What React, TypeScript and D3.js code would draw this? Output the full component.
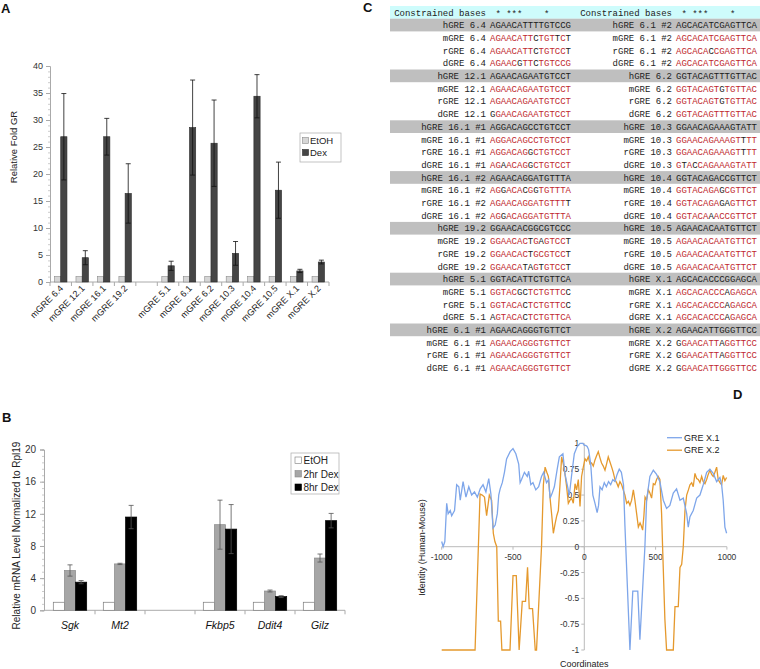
import { useRef, useEffect } from "react";
import * as d3 from "d3";

// ---- Panel A: ChIP fold enrichment ----
const gresA = ["mGRE 6.4", "mGRE 12.1", "mGRE 16.1", "mGRE 19.2", "", "mGRE 5.1", "mGRE 6.1", "mGRE 6.2", "mGRE 10.3", "mGRE 10.4", "mGRE 10.5", "mGRE X.1", "mGRE X.2"];
const seriesA = ["EtOH", "Dex"];
const etohA = [1, 1, 1, 1, null, 1, 1, 1, 1, 1, 1, 1, 1];
const dexA = [26.9, 4.5, 26.9, 16.4, null, 3.0, 28.6, 25.7, 5.3, 34.4, 17.0, 2.05, 3.7];
const dexErrA = [8.0, 1.3, 3.4, 5.5, null, 0.85, 8.8, 8.0, 2.2, 4.0, 5.2, 0.3, 0.35];
const ticksA = [0, 5, 10, 15, 20, 25, 30, 35, 40];

// ---- Panel B: qPCR ----
const genesB = ["Sgk", "Mt2", "", "Fkbp5", "Ddit4", "Gilz"];
const seriesB = ["EtOH", "2hr Dex", "8hr Dex"];
const etohB = [1, 1, null, 1, 1, 1];
const dex2B = [4.95, 5.77, null, 10.65, 2.4, 6.5];
const dex2ErrB = [0.7, 0.08, null, 3.05, 0.12, 0.5];
const dex8B = [3.5, 11.6, null, 10.1, 1.7, 11.15];
const dex8ErrB = [0.2, 1.45, null, 3.05, 0.12, 0.9];
const ticksB = [0, 4, 8, 12, 16, 20];

// ---- Panel C: alignments (human, mouse, rat, dog) ----
const speciesC = ["h", "m", "r", "d"];
const starsC = " * ***    *    ";
const leftGresC = ["6.4", "12.1", "16.1 #1", "16.1 #2", "19.2", "5.1", "6.1 #1"];
const leftSeqC = [
  ["AGAACATTTTGTCCG", "AGAACATTCTGTTCT", "AGAACATTCTGTCCT", "AGAACGTTCTGTCCG"],
  ["AGAACAGAATGTCCT", "AGAACAGAATGTCCT", "AGAACAGAATGTCCT", "GGAACAGAATGTCCT"],
  ["AGGACAGCCTGTCCT", "AGGACAGCCTGTCCT", "AGGACAGGCTGTCCT", "AGAACAGGCTGTCCT"],
  ["AGAACAGGATGTTTA", "AGGACACGGTGTTTA", "AGAACAGGATGTTTT", "AGGACAGGATGTTTA"],
  ["GGAACACGGCGTCCC", "GGAACACTGAGTCCT", "GGAACACTGCGTCCT", "GGAACATAGTGTCCT"],
  ["GGTACATTCTGTTCA", "GGTACGCTCTGTTCC", "GGTACACTCTGTTCC", "AGTACACTCTGTTCA"],
  ["AGAACAGGGTGTTCT", "AGAACAGGGTGTTCT", "AGAACAGGGTGTTCT", "AGAACAGGGTGTTCT"],
];
const rightGresC = ["6.1 #2", "6.2", "10.3", "10.4", "10.5", "X.1", "X.2"];
const rightSeqC = [
  ["AGCACATCGAGTTCA", "AGCACATCGAGTTCA", "AGCACACCGAGTTCA", "AGCACATCGAGTTCA"],
  ["GGTACAGTTTGTTAC", "GGTACAGTGTGTTAC", "GGTACAGTGTGTTAC", "GGTACAGTTTGTTAC"],
  ["GGAACAGAAAGTATT", "GGAACAGAAAGTTTT", "GGAACAGAAAGTTTT", "GTACCAGAAAGTATT"],
  ["GGTACAGACCGTTCT", "GGTACAGAGCGTTCT", "GGTACAGAGAGTTCT", "GGTACAAACCGTTCT"],
  ["AGAACACAATGTTCT", "AGAACACAATGTTCT", "AGAACACAATGTTCT", "AGAACACAATGTTCT"],
  ["AGCACACCCGGAGCA", "AGCACACCCAGAGCA", "AGCACACCCAGAGCA", "AGCACACCCAGAGCA"],
  ["AGAACATTGGGTTCC", "GGAACATTAGGTTCC", "GGAACATTAGGTTCC", "GGAACATTGGGTTCC"],
];

// ---- Panel D: identity profiles ----
const posX1 = [-1000, -990, -978, -965, -955, -940, -930, -910, -895, -880, -870, -850, -830, -810, -790, -770, -750, -730, -710, -690, -670, -655, -640, -625, -610, -600, -590, -575, -560, -545, -520, -500, -480, -460, -450, -440, -420, -400, -390, -375, -360, -340, -320, -300, -285, -265, -250, -240, -225, -210, -190, -175, -150, -135, -120, -105, -90, -70, -50, -30, -10, 0, 10, 20, 30, 45, 60, 75, 90, 100, 110, 125, 140, 155, 170, 185, 200, 215, 230, 245, 260, 275, 285, 320, 340, 375, 390, 425, 437, 460, 484, 507, 530, 554, 577, 600, 624, 647, 671, 694, 718, 729, 741, 764, 788, 811, 834, 858, 881, 904, 928, 951, 963, 974, 986, 998];
const idX1 = [0.05, 0.0, 0.05, 0.42, 0.32, 0.35, 0.3, 0.35, 0.6, 0.58, 0.45, 0.63, 0.48, 0.58, 0.5, 0.53, 0.48, 0.56, 0.6, 0.53, 0.66, 0.51, 0.18, 0.21, 0.32, 0.5, 0.56, 0.62, 0.72, 0.85, 0.92, 0.95, 0.9, 0.8, 0.62, 0.65, 0.72, 0.68, 0.73, 0.6, 0.62, 0.55, 0.58, 0.68, 0.72, 0.62, 0.65, 0.47, 0.52, 0.58, 0.75, 0.87, 0.9, 0.7, 0.6, 0.5, 0.68, 0.9, 0.97, 1.0, 1.0, 0.98, 0.98, 0.97, 0.94, 0.8, 0.5, 0.42, 0.33, 0.4, 0.58, 0.55, 0.62, 0.58, 0.63, 0.6, 0.65, 0.63, 0.7, 0.75, 0.72, 0.6, 0.2, -1, -0.43, -0.43, -0.9, 0.0, 0.45, 0.68, 0.74, 0.7, 0.63, 0.45, 0.37, 0.4, 0.52, 0.56, 0.45, 0.47, 0.32, 0.19, 0.29, 0.35, 0.47, 0.5, 0.6, 0.72, 0.75, 0.71, 0.63, 0.67, 0.6, 0.45, 0.19, 0.13];
const posX2 = [-1000, -766, -731, -716, -700, -685, -666, -650, -638, -627, -614, -603, -587, -578, -521, -500, -477, -457, -435, -412, -398, -386, -363, -344, -335, -300, -287, -275, -263, -252, -240, -228, -217, -205, -193, -182, -170, -159, -147, -135, -124, -112, -100, -89, -77, -65, -54, -42, -30, -19, -7, 5, 16, 28, 40, 51, 63, 75, 86, 98, 110, 121, 133, 145, 156, 168, 180, 192, 203, 215, 227, 238, 250, 262, 273, 285, 297, 309, 320, 332, 344, 355, 367, 379, 391, 400, 409, 418, 426, 437, 449, 460, 472, 484, 495, 507, 518, 530, 542, 549, 565, 577, 624, 636, 659, 671, 683, 694, 706, 718, 730, 741, 753, 764, 776, 788, 799, 811, 823, 834, 846, 858, 869, 881, 893, 904, 916, 928, 939, 951, 963, 974, 986, 998];
const idX2 = [-1, -1, 0.51, 0.5, 0.48, 0.3, 0.5, 0.45, 0.13, 0.05, 0.0, -0.72, -0.72, -1, -1, -0.28, -0.28, -1, -0.53, -0.53, -0.2, -0.6, -0.6, -1, -1, 0.0, 0.6, 0.77, 0.72, 0.68, 0.47, 0.3, 0.13, 0.22, 0.3, 0.35, 0.61, 0.87, 0.8, 0.7, 0.58, 0.42, 0.45, 0.47, 0.42, 0.61, 0.55, 0.65, 0.39, 0.68, 0.77, 0.85, 0.83, 0.87, 0.8, 0.81, 0.78, 0.84, 0.88, 0.92, 0.86, 0.81, 0.78, 0.74, 0.8, 0.87, 0.82, 0.77, 0.72, 0.65, 0.62, 0.58, 0.63, 0.6, 0.55, 0.5, 0.42, 0.44, 0.4, 0.45, 0.55, 0.45, 0.32, 0.19, 0.23, 0.2, 0.16, 0.3, 0.48, 0.45, 0.55, 0.52, 0.47, 0.61, 0.6, 0.65, 0.68, 0.65, 0.32, 0.0, -0.7, -1, -1, -0.58, -0.58, -0.2, -0.17, 0.0, 0.35, 0.5, 0.55, 0.6, 0.62, 0.58, 0.71, 0.66, 0.65, 0.62, 0.68, 0.63, 0.61, 0.65, 0.7, 0.74, 0.7, 0.68, 0.72, 0.77, 0.65, 0.62, 0.6, 0.69, 0.64, 0.67];
const ticksDx = [-1000, -500, 0, 500, 1000];
const ticksDy = [-1, -0.75, -0.5, -0.25, 0, 0.25, 0.5, 0.75, 1];

const SANS = "'Liberation Sans', Arial, sans-serif";
const MONO = "'Liberation Mono', 'Courier New', monospace";

export default function App() {
  const svgRef = useRef<SVGSVGElement>(null);

  useEffect(() => {
    const svg = d3.select(svgRef.current);
    svg.selectAll("*").remove();
    svg.style("font-family", SANS);

    // panel letters
    const letters: [string, number, number][] = [["A", 1, 13], ["B", 2, 422], ["C", 363, 12], ["D", 733, 399]];
    letters.forEach(([t, x, y]) =>
      svg.append("text").attr("x", x).attr("y", y).text(t)
        .attr("font-size", 13).attr("font-weight", "bold").attr("fill", "#111"));

    // ================= Panel A =================
    const a = svg.append("g");
    const xA = d3.scaleBand().domain(gresA).range([50, 329]);
    const bwA = xA.bandwidth();
    const xA1 = d3.scaleBand().domain(seriesA).range([bwA * 0.21, bwA * 0.79]);
    const yA = d3.scaleLinear().domain([0, 40]).range([282, 66]);

    // minor ticks
    a.append("g").attr("transform", "translate(50,0)")
      .call(d3.axisLeft(yA).tickValues(d3.range(0, 41, 1)).tickSize(2).tickFormat(() => ""))
      .call(g => g.select(".domain").remove())
      .selectAll("line").attr("stroke", "#ccc");
    const yAxA = a.append("g").attr("transform", "translate(50,0)")
      .call(d3.axisLeft(yA).tickValues(ticksA).tickSize(4).tickPadding(3));
    yAxA.select(".domain").attr("stroke", "#aaa");
    yAxA.selectAll("line").attr("stroke", "#aaa");
    yAxA.selectAll("text").attr("font-size", 9).attr("fill", "#333").attr("font-family", SANS);

    a.append("line").attr("x1", 50).attr("x2", 329).attr("y1", yA(0)).attr("y2", yA(0)).attr("stroke", "#aaa");
    a.selectAll(".tkA").data([...gresA, "end"]).join("line")
      .attr("x1", (d, i) => (i < gresA.length ? xA(d)! : 329))
      .attr("x2", (d, i) => (i < gresA.length ? xA(d)! : 329))
      .attr("y1", yA(0)).attr("y2", yA(0) + 4).attr("stroke", "#aaa");

    a.append("text").attr("transform", `translate(17,147) rotate(-90)`)
      .attr("text-anchor", "middle").attr("font-size", 9.5).attr("fill", "#222").text("Relative Fold GR");

    gresA.forEach((g, i) => {
      const gx = xA(g)!;
      if (etohA[i] != null) {
        a.append("rect").attr("x", gx + xA1("EtOH")!).attr("width", xA1.bandwidth())
          .attr("y", yA(etohA[i]!)).attr("height", yA(0) - yA(etohA[i]!))
          .attr("fill", "#d6d6d6").attr("stroke", "#8a8a8a").attr("stroke-width", 0.6);
      }
      if (dexA[i] != null) {
        const v = dexA[i]!, e = dexErrA[i]!;
        const bx = gx + xA1("Dex")!;
        a.append("rect").attr("x", bx).attr("width", xA1.bandwidth())
          .attr("y", yA(v)).attr("height", yA(0) - yA(v))
          .attr("fill", "#454545").attr("stroke", "#2a2a2a").attr("stroke-width", 0.6);
        const cx = bx + xA1.bandwidth() / 2;
        a.append("line").attr("x1", cx).attr("x2", cx).attr("y1", yA(v + e)).attr("y2", yA(v - e)).attr("stroke", "#111").attr("stroke-width", 0.8);
        [v + e, v - e].forEach(t =>
          a.append("line").attr("x1", cx - 2.5).attr("x2", cx + 2.5).attr("y1", yA(t)).attr("y2", yA(t)).attr("stroke", "#111").attr("stroke-width", 0.8));
      }
      if (g) {
        a.append("text").attr("transform", `translate(${gx + bwA / 2 + 3},${yA(0) + 7}) rotate(-45)`)
          .attr("text-anchor", "end").attr("font-size", 9).attr("fill", "#222").text(g);
      }
    });

    // legend A
    a.append("rect").attr("x", 300).attr("y", 133).attr("width", 41).attr("height", 29).attr("fill", "#fff").attr("stroke", "#aaa").attr("stroke-width", 0.7);
    [["EtOH", "#d6d6d6", "#8a8a8a"], ["Dex", "#454545", "#2a2a2a"]].forEach(([t, f, s], i) => {
      a.append("rect").attr("x", 302.5).attr("y", 137.5 + i * 12).attr("width", 6).attr("height", 6).attr("fill", f).attr("stroke", s).attr("stroke-width", 0.6);
      a.append("text").attr("x", 310).attr("y", 143.8 + i * 12).attr("font-size", 9.5).attr("fill", "#222").text(t);
    });

    // ================= Panel B =================
    const b = svg.append("g");
    const xB = d3.scaleBand().domain(genesB).range([45, 345]);
    const bwB = xB.bandwidth();
    const xB1 = d3.scaleBand().domain(seriesB).range([bwB * 0.166, bwB * 0.834]);
    const yB = d3.scaleLinear().domain([0, 20]).range([610.3, 449.5]);

    b.append("g").attr("transform", "translate(44,0)")
      .call(d3.axisLeft(yB).tickValues(d3.range(0, 20.01, 0.8)).tickSize(2).tickFormat(() => ""))
      .call(g => g.select(".domain").remove())
      .selectAll("line").attr("stroke", "#ccc");
    const yAxB = b.append("g").attr("transform", "translate(44,0)")
      .call(d3.axisLeft(yB).tickValues(ticksB).tickSize(4).tickPadding(4));
    yAxB.select(".domain").attr("stroke", "#aaa");
    yAxB.selectAll("line").attr("stroke", "#aaa");
    yAxB.selectAll("text").attr("font-size", 10).attr("fill", "#333").attr("font-family", SANS);

    b.append("line").attr("x1", 44).attr("x2", 345).attr("y1", yB(0)).attr("y2", yB(0)).attr("stroke", "#aaa");
    b.selectAll(".tkB").data([...genesB.slice(1), "end"]).join("line")
      .attr("x1", (d, i) => (i < genesB.length - 1 ? xB(d)! : 345))
      .attr("x2", (d, i) => (i < genesB.length - 1 ? xB(d)! : 345))
      .attr("y1", yB(0)).attr("y2", yB(0) + 4).attr("stroke", "#aaa");

    b.append("text").attr("transform", `translate(20,535.5) rotate(-90)`)
      .attr("text-anchor", "middle").attr("font-size", 10).attr("fill", "#222").text("Relative mRNA Level Normalized to Rpl19");

    const valsB = [etohB, dex2B, dex8B];
    const errsB = [null, dex2ErrB, dex8ErrB];
    const fillB = ["#ffffff", "#a6a6a6", "#000000"];
    const strokeB = ["#7a7a7a", "#8a8a8a", "#000000"];
    genesB.forEach((g, i) => {
      const gx = xB(g)!;
      seriesB.forEach((s, k) => {
        const v = valsB[k][i];
        if (v == null) return;
        const bx = gx + xB1(s)!;
        b.append("rect").attr("x", bx).attr("width", xB1.bandwidth())
          .attr("y", yB(v)).attr("height", yB(0) - yB(v))
          .attr("fill", fillB[k]).attr("stroke", strokeB[k]).attr("stroke-width", 0.7);
        const ea = errsB[k];
        if (ea && ea[i] != null) {
          const e = ea[i]!;
          const cx = bx + xB1.bandwidth() / 2;
          b.append("line").attr("x1", cx).attr("x2", cx).attr("y1", yB(v + e)).attr("y2", yB(v - e)).attr("stroke", "#555").attr("stroke-width", 0.8);
          [v + e, v - e].forEach(t =>
            b.append("line").attr("x1", cx - 2.5).attr("x2", cx + 2.5).attr("y1", yB(t)).attr("y2", yB(t)).attr("stroke", "#555").attr("stroke-width", 0.8));
        }
      });
      if (g) {
        b.append("text").attr("x", gx + bwB / 2).attr("y", 628.5).attr("text-anchor", "middle")
          .attr("font-size", 10.5).attr("font-style", "italic").attr("fill", "#111").text(g);
      }
    });

    // legend B
    b.append("rect").attr("x", 291).attr("y", 453).attr("width", 48).attr("height", 41).attr("fill", "#fff").attr("stroke", "#aaa").attr("stroke-width", 0.7);
    seriesB.forEach((s, k) => {
      b.append("rect").attr("x", 295).attr("y", 457 + k * 13.5).attr("width", 6.5).attr("height", 6.5)
        .attr("fill", fillB[k]).attr("stroke", strokeB[k]).attr("stroke-width", 0.6);
      b.append("text").attr("x", 303.5).attr("y", 464 + k * 13.5).attr("font-size", 10).attr("fill", "#222").text(s);
    });

    // ================= Panel C =================
    const c = svg.append("g").attr("font-family", MONO);
    const rowH = 12.7, top0 = 6, cw = 5.4;
    const cols = [
      { seqX: 490, names: leftGresC, seqs: leftSeqC },
      { seqX: 676, names: rightGresC, seqs: rightSeqC },
    ];
    c.append("rect").attr("x", 390).attr("y", top0).attr("width", 370).attr("height", rowH).attr("fill", "#cefcfc");
    leftGresC.forEach((_, gi) => {
      c.append("rect").attr("x", 390).attr("y", top0 + (1 + gi * 4) * rowH).attr("width", 370).attr("height", rowH).attr("fill", "#bfbfbf");
    });
    cols.forEach(col => {
      const nameEnd = col.seqX - 4;
      c.append("text").attr("x", nameEnd).attr("y", top0 + rowH / 2 + 3.2).attr("text-anchor", "end")
        .attr("font-size", 9).attr("fill", "#222").text("Constrained bases");
      starsC.split("").forEach((ch, j) => {
        if (ch === " ") return;
        c.append("text").attr("x", col.seqX + j * cw).attr("y", top0 + rowH / 2 + 5).attr("font-size", 9).attr("fill", "#222").text(ch);
      });
      col.names.forEach((nm, gi) => {
        const human = col.seqs[gi][0];
        speciesC.forEach((sp, si) => {
          const row = 1 + gi * 4 + si;
          const yb = top0 + row * rowH + rowH / 2 + 3.2;
          c.append("text").attr("x", nameEnd).attr("y", yb).attr("text-anchor", "end")
            .attr("font-size", 9).attr("fill", "#222").text(`${sp}GRE ${nm}`);
          const seq = col.seqs[gi][si];
          seq.split("").forEach((ch, j) => {
            c.append("text").attr("x", col.seqX + j * cw).attr("y", yb).attr("font-size", 9)
              .attr("fill", si === 0 || ch !== human[j] ? "#1a1a1a" : "#c0282e").text(ch);
          });
        });
      });
    });

    // ================= Panel D =================
    const dg = svg.append("g");
    const xD = d3.scaleLinear().domain([-1000, 1000]).range([441.7, 726.9]);
    const yD = d3.scaleLinear().domain([-1, 1]).range([650, 443.4]);

    dg.append("line").attr("x1", xD(-1000)).attr("x2", xD(1000)).attr("y1", yD(0)).attr("y2", yD(0)).attr("stroke", "#bbb");
    dg.append("line").attr("x1", xD(0)).attr("x2", xD(0)).attr("y1", yD(-1)).attr("y2", yD(1)).attr("stroke", "#bbb");
    ticksDx.forEach(t => {
      dg.append("line").attr("x1", xD(t)).attr("x2", xD(t)).attr("y1", yD(0)).attr("y2", yD(0) + 3).attr("stroke", "#bbb");
      dg.append("text").attr("x", xD(t)).attr("y", yD(0) + 13).attr("text-anchor", "middle")
        .attr("font-size", 8.5).attr("fill", "#333").text(String(t));
    });
    ticksDy.forEach(t => {
      dg.append("line").attr("x1", xD(0) - 3).attr("x2", xD(0)).attr("y1", yD(t)).attr("y2", yD(t)).attr("stroke", "#bbb");
      dg.append("text").attr("x", xD(0) - 5).attr("y", yD(t) + 3).attr("text-anchor", "end")
        .attr("font-size", 8.5).attr("fill", "#333").text(String(t));
    });

    const lineD = (xs: number[], ys: number[]) =>
      d3.line<number>().x(i => xD(xs[i])).y(i => yD(ys[i]))(d3.range(xs.length));
    dg.append("path").attr("d", lineD(posX2, idX2)).attr("fill", "none").attr("stroke", "#e5992d").attr("stroke-width", 1.3);
    dg.append("path").attr("d", lineD(posX1, idX1)).attr("fill", "none").attr("stroke", "#7ea6ea").attr("stroke-width", 1.3);

    dg.append("text").attr("x", xD(0)).attr("y", 667).attr("text-anchor", "middle").attr("font-size", 9).attr("fill", "#222").text("Coordinates");
    dg.append("text").attr("transform", `translate(425,547.5) rotate(-90)`).attr("text-anchor", "middle")
      .attr("font-size", 9).attr("fill", "#222").text("Identity (Human-Mouse)");

    [["GRE X.1", "#7ea6ea"], ["GRE X.2", "#e5992d"]].forEach(([t, col], i) => {
      const ly = 437.7 + i * 12.5;
      dg.append("line").attr("x1", 667).attr("x2", 682).attr("y1", ly).attr("y2", ly).attr("stroke", col).attr("stroke-width", 1.3);
      dg.append("text").attr("x", 684).attr("y", ly + 3.2).attr("font-size", 9).attr("fill", "#222").text(t);
    });
  }, []);

  return (
    <svg ref={svgRef} width={760} height={669}
      style={{ position: "absolute", left: 0, top: 0, background: "#fff" }}></svg>
  );
}
